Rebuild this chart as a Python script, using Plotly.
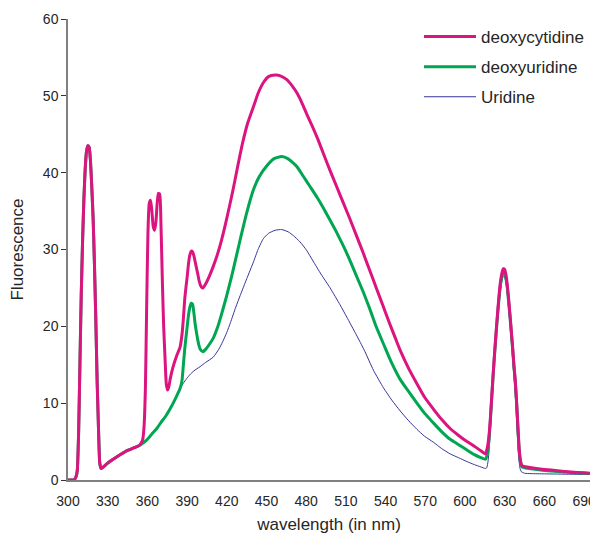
import plotly.graph_objects as go

# Shared scatter peak and baseline (all three samples coincide here)
common_x = [300, 301, 302, 303, 304, 305, 306, 307, 308, 309, 310, 311, 312, 313, 314, 315,
            316, 317, 318, 319, 320, 321, 322, 323, 324, 325, 326, 330, 335, 340, 345, 350, 354]
common_y = [0, 0, 0, 0, 0, 0.1, 0.4, 1.2, 6, 15, 24, 31, 36.5, 40.5, 42.8, 43.5,
            43.3, 41.5, 38, 34, 28, 21, 13, 7, 2.2, 1.5, 1.6, 2.2, 2.8, 3.35, 3.85, 4.2, 4.5]

# deoxycytidine
dc_x = [355.5, 356.5, 357.5, 358.5, 359.4, 360.4, 361.4, 362.4, 363.4, 364.4, 365.4, 366.4,
        367.4, 368.3, 369.3, 370.3, 371.3, 372.3, 373.3, 374.3, 375.3, 376.3, 377.3, 379.2,
        382.2, 384.7, 386.2, 387.2, 388.2, 389.1, 390.1, 391.1, 392.1, 393.1, 394.1, 395.1,
        396.1, 397.1, 398.1, 399, 400, 401, 402, 404, 407, 410, 413, 416, 419, 422,
        425, 428, 432, 435.7, 440.2, 443.6, 447.6, 451.5, 456.5, 460.5, 465.4, 469.4,
        473.3, 477, 480.5, 484.5, 488.5, 493, 498, 503, 508, 513, 518,
        523, 528, 533, 538, 543, 548, 551, 557.5, 563.5, 569.4, 576.3, 582.3,
        588.8, 595.2, 601.5, 607.1, 612, 615.5, 617, 618, 619, 620, 621, 622, 623, 624, 625,
        626, 627, 628, 629, 630, 631, 632, 633, 634, 635, 636, 637, 638, 639, 640, 641, 642,
        643, 645, 650, 660, 670, 680, 690, 695]
dc_y = [4.9, 5.3, 7, 12, 22, 32, 36, 36.4, 35, 33, 32.5, 33.5,
        36, 37.3, 37.2, 33, 26, 20, 16, 12.5, 11.7, 12.2, 13.2, 14.6,
        16.2, 17.3, 19, 21, 23.5, 25, 26.5, 28.2, 29.3, 29.8, 29.7, 29.2,
        28.4, 27.6, 26.8, 26, 25.4, 25.1, 25.0, 25.5, 26.6, 27.9, 29.4, 31.2, 33.3, 35.6,
        38.0, 40.6, 43.9, 46.4, 48.6, 50.3, 51.7, 52.5, 52.7, 52.6, 52.1, 51.3,
        50.3, 49.0, 47.6, 46.1, 44.5, 42.5, 40.3, 38.2, 36.1, 34.0, 31.8,
        29.6, 27.3, 25.0, 22.7, 20.4, 18.2, 16.9, 14.5, 12.6, 10.8, 9.2, 7.9,
        6.7, 5.8, 5.0, 4.4, 3.8, 3.4, 4.3, 5.5, 7.5, 10.2, 13, 15.6, 18, 20.3, 22.5,
        24.5, 26, 27, 27.5, 27.4, 26.7, 25.4, 23.6, 21.6, 19.5, 17.4, 15, 13, 10.3, 7, 4, 2.5,
        1.9, 1.75, 1.6, 1.38, 1.2, 1.05, 0.93, 0.88]

# deoxyuridine
du_x = [359.4, 363.4, 367.1, 370.3, 373.8, 377.3, 381.2, 384.7, 386.2, 387.2, 388.2, 389.1,
        390.1, 391.1, 392.1, 393.1, 394.1, 395.1, 396.1, 397.1, 398.1, 399, 400, 401, 402,
        404, 407, 409.9, 412.9, 415.9, 419.8, 423.8, 427.6, 430.7, 435.1, 440.2, 444.6,
        450.3, 455.5, 461.5, 466.4, 472.9, 478.3, 482.9, 488.2, 493, 498.1, 503.1, 508, 512,
        517.9, 523.3, 527.8, 532.8, 538.7, 544.7, 551, 557.5, 563.7, 569.4, 576.3, 582.3,
        588.8, 595.2, 601.5, 607.1, 612, 615.5, 617, 618, 619, 620, 621, 622, 623, 624, 625,
        626, 627, 628, 629, 630, 631, 632, 633, 634, 635, 636, 637, 638, 639, 640, 641, 642,
        643, 645, 650, 660, 670, 680, 690, 695]
du_y = [5.2, 6.0, 6.7, 7.5, 8.3, 9.3, 10.6, 11.9, 13, 15, 17, 18.5,
        20, 21.5, 22.5, 23, 22.9, 21.8, 20.3, 19.2, 18.2, 17.5, 17, 16.8, 16.7,
        17, 17.7, 18.5, 19.8, 21.5, 23.9, 26.6, 29.4, 31.7, 34.8, 37.8, 39.5,
        40.9, 41.8, 42.1, 41.8, 40.8, 39.4, 38.2, 36.8, 35.4, 33.8, 32.2, 30.5, 29,
        26.6, 24.4, 22.4, 20.0, 17.6, 15.2, 13.1, 11.5, 10.0, 8.7, 7.4, 6.3,
        5.3, 4.6, 3.9, 3.3, 2.9, 2.7, 3.5, 5, 7.2, 10, 12.8, 15.4, 17.8, 20.1, 22.2,
        24.1, 25.6, 26.6, 27.0, 26.9, 26.2, 25, 23.2, 21.3, 19.2, 17.1, 14.8, 12.8, 10.1, 6.8, 3.8, 2.3,
        1.7, 1.6, 1.45, 1.25, 1.1, 0.98, 0.88, 0.85]

# Uridine
ur_x = [359.4, 363.4, 367.1, 370.3, 373.8, 377.3, 381.2, 384.7, 387.2, 389.7, 392.1, 395.1,
        399.8, 404, 409.8, 413.9, 416.9, 420, 422.8, 426.8, 430.1, 435.1, 440.2, 443.6,
        447.6, 451.5, 456.5, 461.5, 466.4, 470.4, 475.3, 480.3, 485.2, 491.2, 498.1, 505.6,
        510.7, 517.9, 523.9, 530.8, 538.4, 544.7, 551, 557.5, 563.7, 569.4, 576.3, 582.3,
        588.8, 595.2, 601.5, 607.1, 612, 615.5, 616.5, 617.5, 618.5, 619.5, 620.5, 621.5,
        622.5, 623.5, 624.5, 625.5, 626.5, 627.5, 628.5, 629.5, 630.5, 631.5, 632.5, 633.5,
        634.5, 635.5, 636.5, 637.5, 638.5, 639.5, 640.5, 641.5, 642.5, 645, 650, 660, 680, 695]
ur_y = [5.2, 6.0, 6.7, 7.5, 8.3, 9.3, 10.6, 11.9, 12.6, 13.2, 13.7, 14.2,
        14.75, 15.3, 16.0, 17.0, 18.0, 19.2, 20.5, 22.5, 24, 26.2, 28.4, 30,
        31.4, 32.1, 32.5, 32.6, 32.3, 31.8, 31.0, 29.9, 28.5, 26.8, 25.0, 22.8,
        21.2, 18.9, 16.9, 14.3, 12.0, 10.4, 9.0, 7.7, 6.6, 5.7, 4.9, 4.1,
        3.4, 2.9, 2.4, 2.0, 1.7, 1.5, 1.6, 2.5, 4.5, 7.5, 10.5, 13.3,
        15.9, 18.2, 20.4, 22.4, 24.2, 25.5, 26.3, 26.5, 26.1, 25.0, 23.3, 21.3,
        19.2, 17.0, 14.6, 12.4, 9.6, 6.2, 3.2, 1.6, 1.1, 0.88, 0.83, 0.8, 0.75, 0.72]

x_ticks = list(range(300, 691, 30))
y_ticks = list(range(0, 61, 10))

line_kw = dict(shape="spline", smoothing=0.5)

fig = go.Figure()
fig.add_trace(go.Scatter(x=common_x + ur_x, y=common_y + ur_y, mode="lines", name="Uridine",
                         legendgroup="c", legendrank=3,
                         line=dict(color="#34359a", width=1, **line_kw)))
fig.add_trace(go.Scatter(x=common_x + du_x, y=common_y + du_y, mode="lines", name="deoxyuridine",
                         legendgroup="b", legendrank=2,
                         line=dict(color="#00a651", width=3, **line_kw)))
fig.add_trace(go.Scatter(x=common_x + dc_x, y=common_y + dc_y, mode="lines", name="deoxycytidine",
                         legendgroup="a", legendrank=1,
                         line=dict(color="#db1480", width=3, **line_kw)))

fig.update_layout(
    width=590, height=534,
    margin=dict(l=68, r=0, t=19, b=54, autoexpand=False),
    plot_bgcolor="white", paper_bgcolor="white",
    font=dict(family="Liberation Sans, Arial, sans-serif", size=14, color="#262626"),
    showlegend=True,
    legend=dict(traceorder="grouped", x=1.0, y=1.0, xanchor="right", yanchor="top",
                font=dict(size=17), itemwidth=52, tracegroupgap=5, bgcolor="rgba(0,0,0,0)"),
)
fig.update_xaxes(range=[300, 694.5], tickvals=x_ticks, showline=True, linecolor="#808080",
                 linewidth=1.5, ticks="outside", ticklen=7, tickcolor="rgba(0,0,0,0)",
                 showgrid=False, zeroline=False, automargin=False,
                 ticklabeloverflow="allow",
                 title=dict(text="wavelength (in nm)", font=dict(size=17), standoff=11))
fig.update_yaxes(range=[0, 60], tickvals=y_ticks, showline=True, linecolor="#808080",
                 linewidth=1.5, ticks="outside", ticklen=5, tickcolor="#333333",
                 showgrid=False, zeroline=False, automargin=False,
                 title=dict(text="Fluorescence", font=dict(size=17)))

fig.write_html("out.html")
